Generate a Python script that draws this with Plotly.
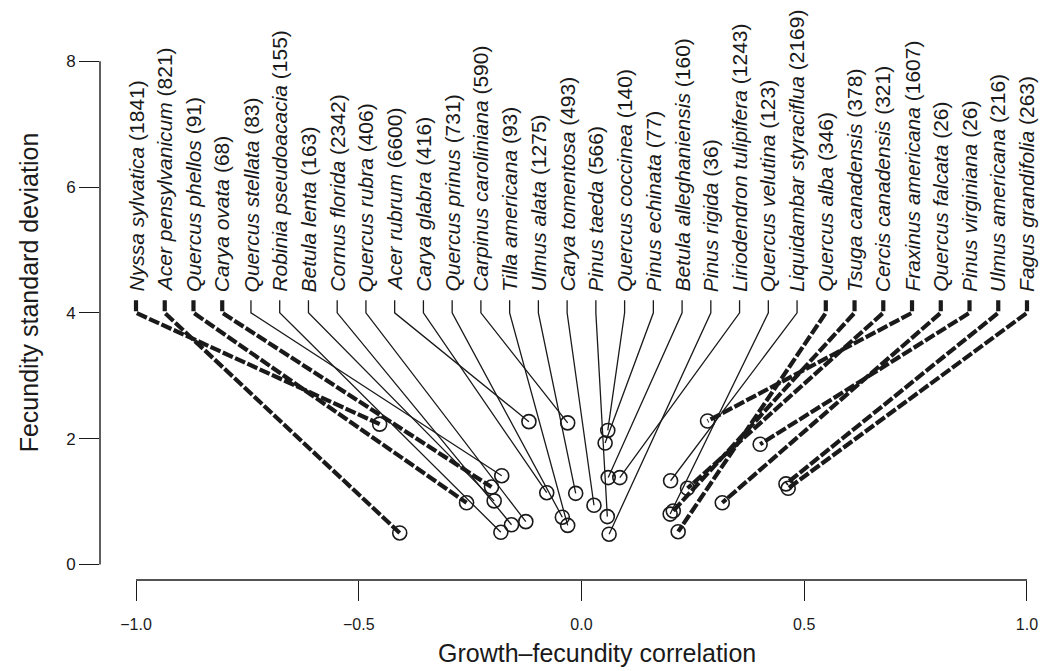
import numpy as np
import plotly.graph_objects as go

species = ["Nyssa sylvatica", "Acer pensylvanicum", "Quercus phellos", "Carya ovata",
           "Quercus stellata", "Robinia pseudoacacia", "Betula lenta", "Cornus florida",
           "Quercus rubra", "Acer rubrum", "Carya glabra", "Quercus prinus",
           "Carpinus caroliniana", "Tilla americana", "Ulmus alata", "Carya tomentosa",
           "Pinus taeda", "Quercus coccinea", "Pinus echinata", "Betula alleghaniensis",
           "Pinus rigida", "Liriodendron tulipifera", "Quercus velutina", "Liquidambar styraciflua",
           "Quercus alba", "Tsuga canadensis", "Cercis canadensis", "Fraxinus americana",
           "Quercus falcata", "Pinus virginiana", "Ulmus americana", "Fagus grandifolia"]
counts = [1841, 821, 91, 68, 83, 155, 163, 2342, 406, 6600, 416, 731, 590, 93, 1275, 493,
          566, 140, 77, 160, 36, 1243, 123, 2169, 346, 378, 321, 1607, 26, 26, 216, 263]
corr = [-0.453, -0.408, -0.258, -0.202, -0.179, -0.181, -0.196, -0.157,
        -0.125, -0.118, -0.078, -0.043, -0.031, -0.031, -0.013, 0.028,
        0.058, 0.059, 0.053, 0.060, 0.062, 0.086, 0.199, 0.200,
        0.217, 0.206, 0.238, 0.283, 0.316, 0.401, 0.459, 0.464]
sd = [2.23, 0.50, 0.98, 1.23, 1.41, 0.51, 1.01, 0.63,
      0.68, 2.27, 1.14, 0.75, 2.25, 0.62, 1.13, 0.94,
      0.76, 2.13, 1.93, 1.38, 0.48, 1.38, 0.80, 1.33,
      0.52, 0.85, 1.21, 2.28, 0.98, 1.91, 1.28, 1.21]
significant = [True] * 4 + [False] * 20 + [True] * 8

x_ticks = [-1.0, -0.5, 0.0, 0.5, 1.0]
x_ticktext = ["\u22121.0", "\u22120.5", "0.0", "0.5", "1.0"]
y_ticks = [0, 2, 4, 6, 8]
x_title = "Growth\u2013fecundity correlation"
y_title = "Fecundity standard deviation"

FONT = "Liberation Sans, Arial, sans-serif"
INK = "#1a1a1a"

n = len(species)
label_x = np.linspace(-1, 1, n)

fig = go.Figure()

for i in range(n):
    sig = significant[i]
    fig.add_trace(go.Scatter(
        x=[label_x[i], label_x[i], corr[i]],
        y=[4.2, 4.0, sd[i]],
        mode="lines",
        line=dict(color=INK, width=4.2 if sig else 1.3,
                  dash="11px,2.5px" if sig else "solid"),
        hoverinfo="skip", showlegend=False))

fig.add_trace(go.Scatter(
    x=corr, y=sd, mode="markers",
    marker=dict(symbol="circle-open", size=14, color=INK, line=dict(width=1.6, color=INK)),
    showlegend=False, text=species))

for i in range(n):
    fig.add_annotation(
        x=label_x[i], y=4.30, xref="x", yref="y",
        text=f"<i>{species[i]}</i> ({counts[i]})",
        textangle=-90, showarrow=False,
        xanchor="center", yanchor="bottom",
        font=dict(family=FONT, size=21, color=INK))

# x-axis title (centred as in the original figure region)
fig.add_annotation(x=0.529, y=-0.127, xref="paper", yref="paper",
                   text=x_title, showarrow=False, xanchor="center", yanchor="middle",
                   font=dict(family=FONT, size=25, color=INK))

# axis lines spanning the tick range (R style)
fig.add_shape(type="line", xref="x", yref="paper", x0=-1, x1=1, y0=0, y1=0,
              line=dict(color=INK, width=1.4))
fig.add_shape(type="line", xref="paper", yref="y", x0=0, x1=0, y0=0, y1=8,
              line=dict(color=INK, width=1.4))

fig.update_layout(
    width=1044, height=671,
    margin=dict(l=100, r=4, t=5, b=91),
    plot_bgcolor="white", paper_bgcolor="white",
    font=dict(family=FONT, color=INK),
    xaxis=dict(range=[-1.0808, 1.0292], tickvals=x_ticks, ticktext=x_ticktext,
               ticks="outside", ticklen=20, tickwidth=1.3, tickcolor=INK,
               showgrid=False, zeroline=False, showline=False, automargin=False,
               ticklabelstandoff=10,
               tickfont=dict(size=16, family=FONT)),
    yaxis=dict(range=[-0.248, 8.894], tickvals=y_ticks,
               ticks="outside", ticklen=20, tickwidth=1.3, tickcolor=INK,
               showgrid=False, zeroline=False, showline=False, automargin=False,
               tickfont=dict(size=17, family=FONT),
               title=dict(text=y_title, font=dict(size=25, family=FONT), standoff=20)),
)

fig.write_html("out.html", config={"displayModeBar": False},
               post_script="document.body.style.margin='0';")
